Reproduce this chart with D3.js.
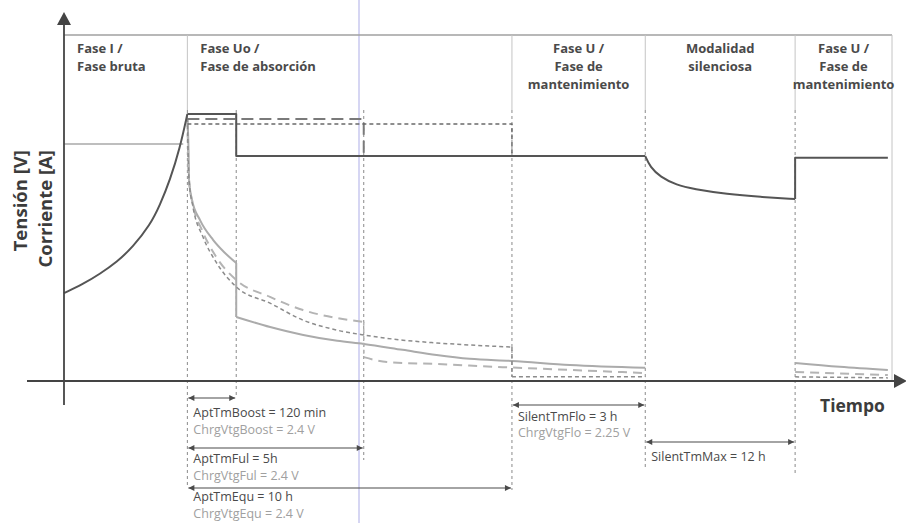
<!DOCTYPE html>
<html>
<head>
<meta charset="utf-8">
<script src="https://cdn.jsdelivr.net/npm/d3@7"></script>
<style>
  body { margin: 0; background: #fff; }
  text { font-family: "Open Sans", Lato, sans-serif; }
</style>
</head>
<body>
<div id="chart"></div>
<script>
////////////////////////////////////////////////////////////////////////
// Data (time in schematic units 0..100, level in schematic units 0..100)

// phase boundaries and names
let phaseStarts = [0, 14.9, 54.1, 70.2, 88.3];
let phaseEnds = [14.9, 54.1, 70.2, 88.3, 100];
let phaseLabels = [
  ["Fase I /", "Fase bruta"],
  ["Fase Uo /", "Fase de absorción"],
  ["Fase U /", "Fase de", "mantenimiento"],
  ["Modalidad", "silenciosa"],
  ["Fase U /", "Fase de", "mantenimiento"]
];
let phaseAlign = ["start", "start", "middle", "middle", "middle"];

// event times (dashed guides)
let eventTimes = [14.9, 20.8, 36.2, 54.1, 70.2, 88.3];

// voltage, dark solid line
let voltBulk = [[0, 25.4], [2.3, 28.0], [4.3, 30.9], [6.4, 34.4], [8.3, 38.7],
  [10.4, 45.1], [11.6, 50.9], [12.8, 58.1], [14.0, 67.3], [14.9, 77.2]];
let voltSteps = [[14.9, 77.2], [20.8, 77.2], [20.8, 65.0], [70.2, 65.0]];
let voltSilent = [[70.2, 65.0], [70.8, 61.8], [72.0, 59.0], [74.0, 56.6], [76.0, 55.5],
  [80.1, 54.0], [84.1, 53.2], [88.3, 52.6]];
let voltFloat = [[88.3, 52.6], [88.3, 64.5], [99.5, 64.5]];

// voltage variants (ChrgVtgFul / ChrgVtgEqu)
let voltFul = [[14.9, 75.7], [36.2, 75.7], [36.2, 65.0]];
let voltEqu = [[14.9, 74.3], [54.1, 74.3], [54.1, 65.0]];

// current in bulk phase
let currBulk = [[0, 68.5], [14.4, 68.5]];

// current, boost variant (light solid)
let currBoostA = [[14.9, 76.0], [15.04, 66.8], [15.1, 58.1], [15.46, 52.3], [16.43, 46.5],
  [18.0, 40.8], [19.32, 37.3], [20.8, 34.1]];
let currBoostB = [[20.8, 18.5], [24.9, 15.6], [28.9, 13.3], [33.0, 11.6], [36.2, 10.7],
  [40.9, 9.0], [45.0, 7.5], [49.0, 6.4], [54.1, 5.8], [61.1, 4.6], [70.2, 3.8]];
let currBoostC = [[88.3, 5.2], [93.7, 4.1], [99.5, 3.2]];

// current, full variant (light long dash)
let currFulA = [[14.9, 76.0], [15.1, 58.1], [15.58, 50.9], [16.67, 43.6], [18.24, 36.4],
  [20.8, 29.2], [24.88, 24.3], [28.86, 20.5], [32.97, 18.2], [36.2, 17.1]];
let currFulB = [[36.2, 6.9], [39.0, 5.5], [45.0, 4.9], [53.0, 4.0], [61.1, 3.2], [70.2, 2.3]];
let currFulC = [[88.3, 2.6], [99.5, 1.7]];

// current, equalisation variant (short dash)
let currEquA = [[14.9, 76.0], [15.1, 58.1], [15.58, 50.3], [16.79, 41.6], [18.36, 34.4],
  [20.8, 27.2], [24.88, 22.5], [28.86, 17.6], [32.97, 14.7], [36.2, 13.3], [40.94, 11.8],
  [45.05, 11.0], [54.1, 9.8]];
let currEquB = [[54.1, 1.2], [70.2, 1.2]];
let currEquC = [[88.3, 1.2], [99.5, 0.9]];

// timing annotations
let spanFrom = [14.9, 14.9, 14.9, 54.1, 70.2];
let spanTo = [20.8, 36.2, 54.1, 70.2, 88.3];
let spanLabels = ["AptTmBoost = 120 min", "AptTmFul = 5h", "AptTmEqu = 10 h",
  "SilentTmFlo = 3 h", "SilentTmMax = 12 h"];
let spanSubLabels = ["ChrgVtgBoost = 2.4 V", "ChrgVtgFul = 2.4 V", "ChrgVtgEqu = 2.4 V",
  "ChrgVtgFlo = 2.25 V", ""];

////////////////////////////////////////////////////////////////////////
// Layout

let width = 906, height = 523;
let arrowRows = [398, 448, 488, 405, 442];
let labelRows = [417, 463, 501, 421, 461];
let subRows = [434, 480, 518, 437, 0];
let guideBottom = [488, 398, 460, 490, 468, 475];
let guideTop = 110;

let svg = d3.select("#chart").append("svg")
  .attr("width", width)
  .attr("height", height);

let xScale = d3.scaleLinear().domain([0, 100]).range([64, 892]);
let yScale = d3.scaleLinear().domain([0, 100]).range([381, 35]);

let defs = svg.append("defs");
defs.append("marker")
  .attr("id", "ah")
  .attr("viewBox", "0 0 10 10")
  .attr("refX", 10).attr("refY", 5)
  .attr("markerWidth", 7).attr("markerHeight", 6)
  .attr("markerUnits", "userSpaceOnUse")
  .attr("orient", "auto-start-reverse")
  .append("path")
  .attr("d", "M0,0 L10,5 L0,10 Z")
  .attr("fill", "#4a4a4a");

// scan artefact line
svg.append("line")
  .attr("x1", 359).attr("x2", 359)
  .attr("y1", 0).attr("y2", height)
  .attr("stroke", "#c8c8ef")
  .attr("stroke-width", 1.5);

// top frame line
svg.append("line")
  .attr("x1", xScale(0)).attr("x2", xScale(100))
  .attr("y1", yScale(100)).attr("y2", yScale(100))
  .attr("stroke", "#a0a0a0")
  .attr("stroke-width", 1.3);

// phase divider lines (solid upper part)
svg.append("g")
  .selectAll("line")
  .data(phaseEnds)
  .enter()
  .append("line")
  .attr("x1", d => xScale(d)).attr("x2", d => xScale(d))
  .attr("y1", yScale(100))
  .attr("y2", d => d == 100 ? yScale(0) : guideTop)
  .attr("stroke", "#c4c4c4")
  .attr("stroke-width", 1);

// dashed event guides
svg.append("g")
  .selectAll("line")
  .data(eventTimes)
  .enter()
  .append("line")
  .attr("x1", d => xScale(d)).attr("x2", d => xScale(d))
  .attr("y1", guideTop)
  .attr("y2", (d, i) => guideBottom[i])
  .attr("stroke", "#8a8a8a")
  .attr("stroke-width", 1)
  .attr("stroke-dasharray", "3,3");

// phase labels
phaseLabels.forEach(function (lines, i) {
  let tx = phaseAlign[i] == "start" ? xScale(phaseStarts[i]) + 13
    : (xScale(phaseStarts[i]) + xScale(phaseEnds[i])) / 2;
  let t = svg.append("text")
    .attr("text-anchor", phaseAlign[i])
    .attr("font-size", 13)
    .attr("font-weight", "bold")
    .attr("fill", "#4a4a4a");
  lines.forEach(function (s, j) {
    t.append("tspan").attr("x", tx).attr("y", 53 + j * 18).text(s);
  });
});

////////////////////////////////////////////////////////////////////////
// Curves

let smooth = d3.line().x(d => xScale(d[0])).y(d => yScale(d[1])).curve(d3.curveMonotoneX);
let soft = d3.line().x(d => xScale(d[0])).y(d => yScale(d[1])).curve(d3.curveBasis);
let straight = d3.line().x(d => xScale(d[0])).y(d => yScale(d[1]));

function draw(data, gen, color, w, dash) {
  svg.append("path")
    .attr("d", gen(data))
    .attr("fill", "none")
    .attr("stroke", color)
    .attr("stroke-width", w)
    .attr("stroke-dasharray", dash)
    .attr("stroke-linejoin", "round");
}

// current
draw(currBulk, straight, "#a8a8a8", 1.5, null);
[currBoostA, currBoostB, currBoostC].forEach(d => draw(d, smooth, "#ababab", 2, null));
draw([currBoostA[currBoostA.length - 1], currBoostB[0]], straight, "#ababab", 2, null);
[currFulA, currFulB, currFulC].forEach(d => draw(d, smooth, "#b4b4b4", 2, "9,6"));
draw([currFulA[currFulA.length - 1], currFulB[0]], straight, "#b4b4b4", 1.5, "4,3");
[currEquA, currEquB, currEquC].forEach(d => draw(d, smooth, "#8c8c8c", 1.5, "4,3"));
draw([currEquA[currEquA.length - 1], currEquB[0]], straight, "#8c8c8c", 1.5, "4,3");

// voltage variants
draw(voltFul, straight, "#7a7a7a", 2, "12,6");
draw(voltEqu, straight, "#6a6a6a", 1.5, "4,3");

// voltage
draw(voltBulk, soft, "#555", 2, null);
draw(voltSteps, straight, "#555", 2, null);
draw(voltSilent, soft, "#555", 2, null);
draw(voltFloat, straight, "#555", 2, null);

////////////////////////////////////////////////////////////////////////
// Axes

svg.append("line")
  .attr("x1", xScale(0)).attr("x2", xScale(0))
  .attr("y1", 22).attr("y2", 405)
  .attr("stroke", "#444").attr("stroke-width", 1.8);
svg.append("path")
  .attr("d", `M${xScale(0) - 7},25 L${xScale(0)},12 L${xScale(0) + 7},25 Z`)
  .attr("fill", "#444");

svg.append("line")
  .attr("x1", 27).attr("x2", 898)
  .attr("y1", yScale(0)).attr("y2", yScale(0))
  .attr("stroke", "#444").attr("stroke-width", 2);
svg.append("path")
  .attr("d", `M894,${yScale(0) - 7} L907,${yScale(0)} L894,${yScale(0) + 7} Z`)
  .attr("fill", "#444");

svg.append("text")
  .attr("x", 820).attr("y", 412)
  .attr("font-size", 17.5)
  .attr("font-weight", "bold")
  .attr("fill", "#3c3c3c")
  .text("Tiempo");

let ylab = svg.append("g").attr("transform", "translate(27,150) rotate(-90)");
ylab.append("text")
  .attr("text-anchor", "end")
  .attr("font-size", 18.5)
  .attr("font-weight", "bold")
  .attr("fill", "#3c3c3c")
  .text("Tensión [V]");
ylab.append("text")
  .attr("text-anchor", "end")
  .attr("y", 25)
  .attr("font-size", 18.5)
  .attr("font-weight", "bold")
  .attr("fill", "#3c3c3c")
  .text("Corriente [A]");

////////////////////////////////////////////////////////////////////////
// Timing annotations

spanFrom.forEach(function (f, i) {
  let ay = arrowRows[i];
  svg.append("line")
    .attr("x1", xScale(f) + 1).attr("x2", xScale(spanTo[i]) - 1)
    .attr("y1", ay).attr("y2", ay)
    .attr("stroke", "#4a4a4a")
    .attr("stroke-width", 1.2)
    .attr("marker-start", "url(#ah)")
    .attr("marker-end", "url(#ah)");
  svg.append("text")
    .attr("x", xScale(f) + 6).attr("y", labelRows[i])
    .attr("font-size", 12.5)
    .attr("fill", "#4a4a4a")
    .text(spanLabels[i]);
  if (spanSubLabels[i] != "")
    svg.append("text")
      .attr("x", xScale(f) + 6).attr("y", subRows[i])
      .attr("font-size", 12.5)
      .attr("fill", "#a0a0a0")
      .text(spanSubLabels[i]);
});
</script>
</body>
</html>
